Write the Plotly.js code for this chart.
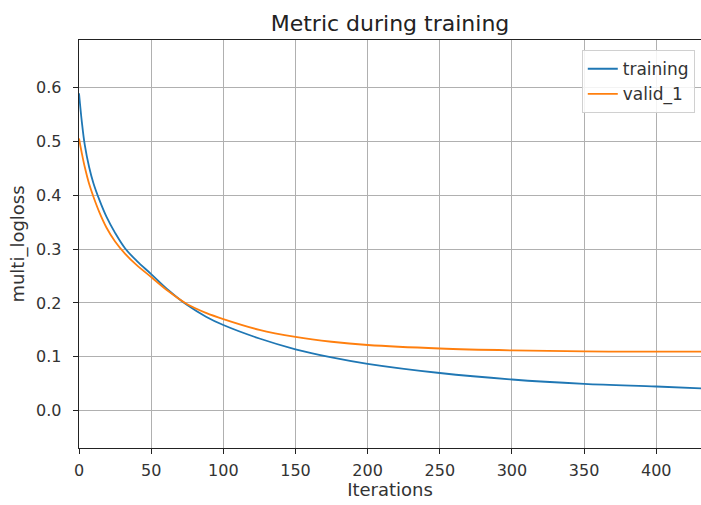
<!DOCTYPE html>
<html>
<head>
<meta charset="utf-8">
<script src="https://cdn.plot.ly/plotly-3.0.1.min.js"></script>
<style>html,body{margin:0;padding:0;background:#fff;}#chart{width:701px;height:505px;}</style>
</head>
<body>
<div id="chart"></div>
<script>
const trainIter = [0, 2, 4, 7, 10, 14, 19, 25, 32, 40, 50, 62, 75, 88, 100, 125, 150, 175, 200, 250, 300, 350, 400, 431];
const trainLoss = [0.589, 0.535, 0.493, 0.452, 0.422, 0.392, 0.360, 0.330, 0.301, 0.278, 0.2535, 0.2235, 0.196, 0.1745, 0.159, 0.134, 0.114, 0.099, 0.087, 0.070, 0.058, 0.050, 0.045, 0.0415];
const validIter = [0, 2, 4, 7, 10, 14, 19, 25, 32, 40, 50, 62, 75, 88, 100, 125, 150, 175, 200, 250, 300, 350, 400, 431];
const validLoss = [0.505, 0.477, 0.452, 0.421, 0.397, 0.369, 0.340, 0.314, 0.291, 0.270, 0.248, 0.2215, 0.1975, 0.1815, 0.170, 0.150, 0.137, 0.128, 0.122, 0.1155, 0.112, 0.110, 0.1095, 0.1095];
const seriesNames = ['training', 'valid_1'];
const xTicks = [0, 50, 100, 150, 200, 250, 300, 350, 400];
const yTicks = [0.0, 0.1, 0.2, 0.3, 0.4, 0.5, 0.6];

const font = 'DejaVu Sans, sans-serif';
const traces = [
  {x: trainIter, y: trainLoss, name: seriesNames[0], mode: 'lines',
   line: {color: '#1f77b4', width: 1.8, shape: 'spline', smoothing: 1}},
  {x: validIter, y: validLoss, name: seriesNames[1], mode: 'lines',
   line: {color: '#ff7f0e', width: 1.8, shape: 'spline', smoothing: 1}}
];
const layout = {
  width: 701, height: 505,
  margin: {l: 79, r: 0, t: 40, b: 57},
  paper_bgcolor: '#fff', plot_bgcolor: '#fff',
  font: {family: font, size: 17, color: '#222'},
  title: {text: 'Metric during training', xref: 'paper', x: 0.5, xanchor: 'center', y: 0.953, yanchor: 'middle',
          font: {family: font, size: 22, color: '#222'}},
  xaxis: {range: [0, 431], tickvals: xTicks, ticktext: xTicks.map(String),
          showgrid: true, gridcolor: '#b0b0b0', gridwidth: 1,
          showline: true, linecolor: '#222', linewidth: 1.3, mirror: true,
          ticks: 'outside', ticklen: 5, tickcolor: '#222', zeroline: false,
          ticklabelstandoff: 2,
          tickfont: {family: font, size: 16, color: '#333'},
          title: {text: 'Iterations', standoff: 3, font: {family: font, size: 18, color: '#333'}}},
  yaxis: {range: [-0.0691, 0.6877], tickvals: yTicks, ticktext: yTicks.map(v => v.toFixed(1)),
          showgrid: true, gridcolor: '#b0b0b0', gridwidth: 1,
          showline: true, linecolor: '#222', linewidth: 1.3, mirror: false,
          ticks: 'outside', ticklen: 5, tickcolor: '#222', zeroline: false,
          ticklabelstandoff: 8,
          tickfont: {family: font, size: 16, color: '#333'},
          title: {text: 'multi_logloss', standoff: 6, font: {family: font, size: 18, color: '#333'}}},
  legend: {x: 0.99, y: 0.975, xanchor: 'right', yanchor: 'top',
           bgcolor: 'rgba(255,255,255,0.85)', bordercolor: '#d0d0d0', borderwidth: 1,
           font: {family: font, size: 17, color: '#333'}, itemwidth: 30, tracegroupgap: 0}
};
Plotly.newPlot('chart', traces, layout, {displayModeBar: false, staticPlot: true});
</script>
</body>
</html>
